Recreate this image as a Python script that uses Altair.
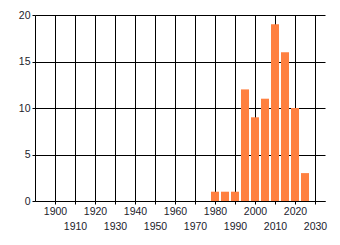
import altair as alt
import pandas as pd

years = [1980, 1985, 1990, 1995, 2000, 2005, 2010, 2015, 2020, 2025]
counts = [1, 1, 1, 12, 9, 11, 19, 16, 10, 3]
x_ticks = list(range(1900, 2031, 10))
y_ticks = [0, 5, 10, 15, 20]

df = pd.DataFrame({"year": years, "count": counts})

FONT = "Liberation Sans"
LABEL_COLOR = "#1c1c2c"

bars = alt.Chart(df).transform_calculate(
    x0="datum.year - 2", x1="datum.year + 2"
).mark_bar(color="#FF8040").encode(
    x=alt.X("x0:Q",
            scale=alt.Scale(domain=[1890, 2035], nice=False, zero=False, padding=0),
            axis=alt.Axis(values=x_ticks, title=None, grid=True, offset=0,
                          gridColor="black", gridOpacity=1, gridWidth=1,
                          domainColor="black", domainWidth=1,
                          tickColor="black", tickSize=3, tickWidth=1,
                          labelFont=FONT, labelFontSize=10.5,
                          labelColor=LABEL_COLOR, labelPadding=2,
                          labelOverlap=False, labelFlush=False,
                          labelBound=False, labelLineHeight=15,
                          labelBaseline="top",
                          labelExpr="datum.value % 20 == 0 ? datum.label : ['', datum.label]",
                          format="d")),
    x2="x1:Q",
    y=alt.Y("count:Q",
            scale=alt.Scale(domain=[0, 20], nice=False, padding=0),
            axis=alt.Axis(values=y_ticks, title=None, grid=True, offset=0,
                          gridColor="black", gridOpacity=1, gridWidth=1,
                          domainColor="black", domainWidth=1,
                          tickColor="black", tickSize=3, tickWidth=1,
                          labelFont=FONT, labelFontSize=10.5,
                          labelColor=LABEL_COLOR, labelPadding=2)),
    y2=alt.Y2(datum=0),
)

chart = bars.properties(
    width=290, height=186,
    autosize=alt.AutoSizeParams(type="none"),
    padding={"left": 35, "top": 15, "right": 15, "bottom": 44},
    background="white",
).configure_view(strokeWidth=0)

chart.save("out.html", embed_options={"renderer": "svg", "actions": False})
